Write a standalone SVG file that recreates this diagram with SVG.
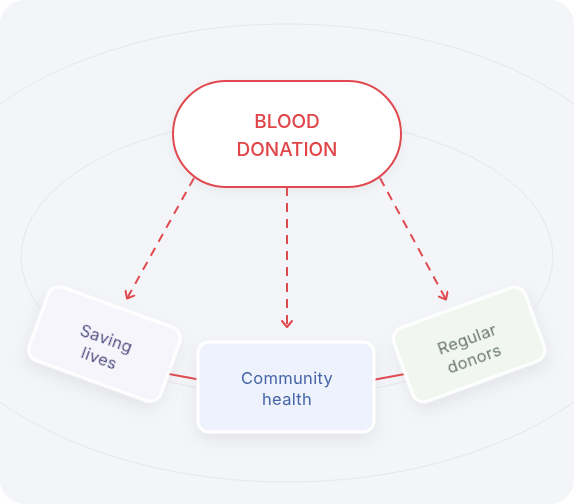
<svg xmlns="http://www.w3.org/2000/svg" width="574" height="504" viewBox="0 0 574 504">
  <style>
    .ring { fill: none; stroke: #e5e7eb; stroke-width: 1; }
    .conn { fill: none; stroke: #e04a4f; stroke-width: 2; }
    .dash { fill: none; stroke: #e04a4f; stroke-width: 2; stroke-dasharray: 9 7; }
    .card { stroke: #ffffff; stroke-width: 3; }
    .lbl { font-family: Inter, "Liberation Sans", sans-serif; font-size: 16.5px; letter-spacing: 0.3px; text-anchor: middle; }
    .title { font-family: Inter, "Liberation Sans", sans-serif; font-size: 19px; font-weight: 500; fill: #e04448; text-anchor: middle; }
  </style>
  <defs>
    <filter id="sh" x="-30%" y="-30%" width="160%" height="170%">
      <feDropShadow dx="0" dy="7" stdDeviation="8" flood-color="#8a90a0" flood-opacity="0.16"/>
    </filter>
    <filter id="glow" x="-20%" y="-30%" width="140%" height="160%">
      <feDropShadow dx="0" dy="4" stdDeviation="6" flood-color="#9098a8" flood-opacity="0.12"/>
    </filter>
    <marker id="chev" viewBox="0 0 12 12" refX="10" refY="6" markerWidth="12" markerHeight="12" markerUnits="userSpaceOnUse" orient="auto">
      <polyline points="4,1 10,6 4,11" fill="none" stroke="#e04a4f" stroke-width="2" stroke-linecap="round" stroke-linejoin="round"/>
    </marker>
  </defs>

  <rect x="0" y="0" width="574" height="504" rx="24" fill="#f4f5f8"/>
  <g id="background">
    <ellipse class="ring" cx="287" cy="253" rx="378" ry="229"/>
    <ellipse class="ring" cx="287" cy="257" rx="266" ry="139"/>
  </g>

  <g id="connectors">
    <path class="conn" d="M150 370.5 L215 382.5"/>
    <path class="conn" d="M359 382.5 L424 370.5"/>
    <path class="dash" d="M194 178 L127 298.5" marker-end="url(#chev)"/>
    <path class="dash" d="M287 187 L287 327" marker-end="url(#chev)"/>
    <path class="dash" d="M380 178 L446 299.5" marker-end="url(#chev)"/>
  </g>

  <g id="node-blood-donation" filter="url(#glow)">
    <rect x="173" y="81" width="228" height="106" rx="53" fill="#ffffff" stroke="#e04a4f" stroke-width="2"/>
    <text class="title" x="287" y="128">BLOOD</text>
    <text class="title" x="287" y="156">DONATION</text>
  </g>

  <g id="node-saving-lives" transform="translate(104.5 344) rotate(20)" filter="url(#sh)">
    <rect class="card" x="-70" y="-39" width="140" height="78" rx="12" fill="#f7f5fc"/>
    <text class="lbl" x="0" y="0" fill="#42417a">Saving</text>
    <text class="lbl" x="0" y="21" fill="#42417a">lives</text>
  </g>

  <g id="node-community-health" filter="url(#sh)">
    <rect class="card" x="198" y="342" width="176" height="90" rx="11" fill="#eef2fc"/>
    <text class="lbl" x="287" y="384" fill="#4565a6">Community</text>
    <text class="lbl" x="287" y="405" fill="#4565a6">health</text>
  </g>

  <g id="node-regular-donors" transform="translate(469 344.5) rotate(-20)" filter="url(#sh)">
    <rect class="card" x="-70" y="-39" width="140" height="78" rx="12" fill="#f1f6f1"/>
    <text class="lbl" x="0" y="0" fill="#627266">Regular</text>
    <text class="lbl" x="0" y="21" fill="#627266">donors</text>
  </g>
</svg>
